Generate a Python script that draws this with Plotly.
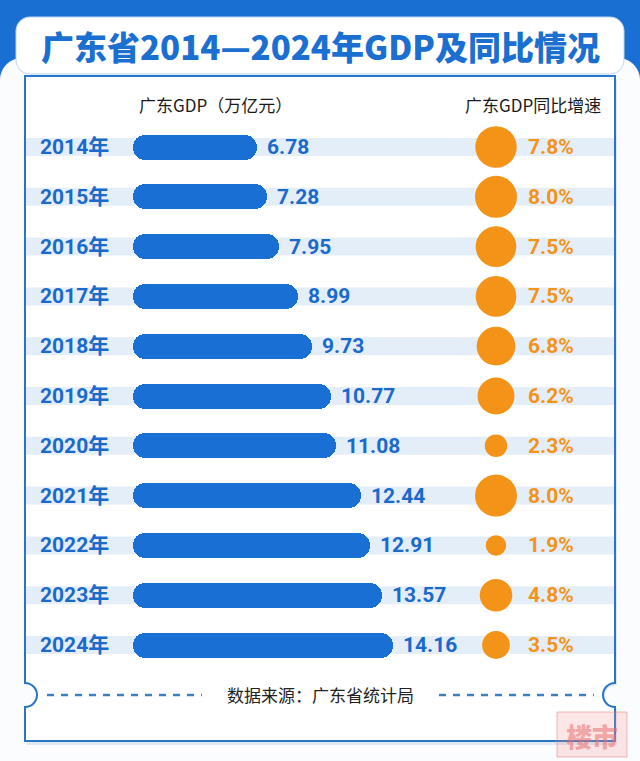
import plotly.graph_objects as go

# ---------------- data ----------------
years = ["2014年", "2015年", "2016年", "2017年", "2018年", "2019年",
         "2020年", "2021年", "2022年", "2023年", "2024年"]
gdp = [6.78, 7.28, 7.95, 8.99, 9.73, 10.77, 11.08, 12.44, 12.91, 13.57, 14.16]
growth = [7.8, 8.0, 7.5, 7.5, 6.8, 6.2, 2.3, 8.0, 1.9, 4.8, 3.5]
gdp_labels = [f"{v:.2f}" for v in gdp]
growth_labels = [f"{v:.1f}%" for v in growth]

title_text = "广东省2014—2024年GDP及同比情况"
header_left = "广东GDP（万亿元）"
header_right = "广东GDP同比增速"
source_text = "数据来源：广东省统计局"

# ---------------- layout constants (pixels) ----------------
W, H = 640, 761
BAR_X0 = 133          # pixel where GDP = 0
PX_PER_UNIT = 18.35   # pixels per 1 万亿元
ROW0 = 147            # pixel centre of first row
ROW_STEP = 49.8       # pixels between rows
CIRCLE_PX = 496       # pixel centre of bubbles
MAX_D = 42            # bubble diameter for max growth
BAR_H = 25            # bar thickness in pixels

BLUE = "#1a6fd4"
ORANGE = "#f39419"
STRIPE = "#e4eef9"
CARD_LINE = "#2a74c6"

CJK = "Noto Sans CJK SC"
NUM = "Roboto, Noto Sans CJK SC"

x_range = [-BAR_X0 / PX_PER_UNIT, (W - BAR_X0) / PX_PER_UNIT]
y_range = [(H - ROW0) / ROW_STEP, -ROW0 / ROW_STEP]
circle_x = (CIRCLE_PX - BAR_X0) / PX_PER_UNIT
EPS = 1e-6            # tiny non-zero base so both bar ends get rounded
idx = list(range(len(years)))


def X(px):
    return px / W


def Y(py):
    return 1 - py / H


def P(pts):
    return " ".join(f"{X(a):.5f},{Y(b):.5f}" for a, b in pts)


K = 0.5523


def rrect(x0, y0, x1, y1, r):
    k = K * r
    return (f"M {P([(x0 + r, y0)])} L {P([(x1 - r, y0)])} "
            f"C {P([(x1 - r + k, y0), (x1, y0 + r - k), (x1, y0 + r)])} "
            f"L {P([(x1, y1 - r)])} "
            f"C {P([(x1, y1 - r + k), (x1 - r + k, y1), (x1 - r, y1)])} "
            f"L {P([(x0 + r, y1)])} "
            f"C {P([(x0 + r - k, y1), (x0, y1 - r + k), (x0, y1 - r)])} "
            f"L {P([(x0, y0 + r)])} "
            f"C {P([(x0, y0 + r - k), (x0 + r - k, y0), (x0 + r, y0)])} Z")


def card_path(x0, y0, x1, y1, ny, r):
    k = K * r
    return (f"M {P([(x0, y0)])} L {P([(x1, y0)])} L {P([(x1, ny - r)])} "
            f"C {P([(x1 - k, ny - r), (x1 - r, ny - k), (x1 - r, ny)])} "
            f"C {P([(x1 - r, ny + k), (x1 - k, ny + r), (x1, ny + r)])} "
            f"L {P([(x1, y1)])} L {P([(x0, y1)])} L {P([(x0, ny + r)])} "
            f"C {P([(x0 + k, ny + r), (x0 + r, ny + k), (x0 + r, ny)])} "
            f"C {P([(x0 + r, ny - k), (x0 + k, ny - r), (x0, ny - r)])} Z")


shapes = []
# blue top band
shapes.append(dict(type="rect", xref="paper", yref="paper", x0=0, x1=1,
                   y0=Y(110), y1=Y(0), fillcolor="#1a6fd2", line_width=0, layer="below"))
# white rounded background
shapes.append(dict(type="path", xref="paper", yref="paper",
                   path=rrect(0, 58, 640, 820, 22), fillcolor="#fbfcfe",
                   line_width=0, layer="below"))
# card shadow
shapes.append(dict(type="path", xref="paper", yref="paper",
                   path=card_path(27, 79, 617, 745, 697, 12),
                   fillcolor="rgba(40,100,170,0.12)", line_width=0, layer="below"))
# card
shapes.append(dict(type="path", xref="paper", yref="paper",
                   path=card_path(25, 76, 615, 741, 695, 12),
                   fillcolor="white", line=dict(color=CARD_LINE, width=2), layer="below"))
# title box
shapes.append(dict(type="path", xref="paper", yref="paper",
                   path=rrect(16, 17, 624, 74, 14), fillcolor="white",
                   line=dict(color="#bcd5f2", width=1), layer="below"))
# row stripes
for i in idx:
    shapes.append(dict(type="rect", xref="paper", yref="y", x0=X(26), x1=X(614),
                       y0=i - 9 / ROW_STEP, y1=i + 9 / ROW_STEP,
                       fillcolor=STRIPE, line_width=0, layer="below"))
# dashed lines in footer
for a, b in [(47, 202), (439, 594)]:
    shapes.append(dict(type="line", xref="paper", yref="paper", x0=X(a), x1=X(b),
                       y0=Y(695), y1=Y(695),
                       line=dict(color="#3d7fc0", width=2.5, dash="7px,7px"), layer="below"))
# watermark stamp
shapes.append(dict(type="rect", xref="paper", yref="paper", x0=X(557), x1=X(627),
                   y0=Y(757), y1=Y(712), fillcolor="rgba(240,140,140,0.22)",
                   line=dict(color="rgba(230,120,120,0.5)", width=1), layer="above"))

fig = go.Figure()
fig.add_trace(go.Bar(
    x=[v - EPS for v in gdp], base=[EPS] * len(gdp), y=idx, orientation="h",
    width=BAR_H / ROW_STEP,
    marker=dict(color=BLUE, cornerradius=BAR_H // 2, line_width=0),
    hoverinfo="skip"))
# growth bubbles
fig.add_trace(go.Scatter(
    x=[circle_x] * len(growth), y=idx, mode="markers",
    marker=dict(size=growth, sizemode="area", sizeref=2 * max(growth) / MAX_D ** 2,
                color=ORANGE, opacity=1, line_width=0),
    hoverinfo="skip"))

annotations = []
annotations.append(dict(text=title_text, xref="paper", yref="paper", x=X(320), y=Y(46),
                        xanchor="center", yanchor="middle", showarrow=False,
                        font=dict(family=CJK, size=33, color="#1b6fd0", weight=900)))
annotations.append(dict(text=header_left, xref="paper", yref="paper", x=X(215), y=Y(104),
                        xanchor="center", yanchor="middle", showarrow=False,
                        font=dict(family=CJK, size=17, color="#1a1a1a")))
annotations.append(dict(text=header_right, xref="paper", yref="paper", x=X(533), y=Y(104),
                        xanchor="center", yanchor="middle", showarrow=False,
                        font=dict(family=CJK, size=17, color="#1a1a1a")))
annotations.append(dict(text=source_text, xref="paper", yref="paper", x=X(320), y=Y(694),
                        xanchor="center", yanchor="middle", showarrow=False,
                        font=dict(family=CJK, size=17, color="#222222")))
annotations.append(dict(text="楼市", xref="paper", yref="paper", x=X(592), y=Y(735),
                        xanchor="center", yanchor="middle", showarrow=False,
                        font=dict(family=CJK, size=26, color="rgba(230,110,110,0.55)", weight=900)))
for i in idx:
    annotations.append(dict(text=years[i], xref="paper", yref="y", x=X(38), y=i,
                            xanchor="left", yanchor="middle", showarrow=False,
                            font=dict(family=NUM, size=21, color="#1b6acb", weight="bold")))
    annotations.append(dict(text=gdp_labels[i], xref="x", yref="y", x=gdp[i], y=i,
                            xanchor="left", yanchor="middle", xshift=8, showarrow=False,
                            font=dict(family=NUM, size=21, color="#1b6acb", weight="bold")))
    annotations.append(dict(text=growth_labels[i], xref="x", yref="y", x=circle_x, y=i,
                            xanchor="left", yanchor="middle", xshift=30, showarrow=False,
                            font=dict(family=NUM, size=21, color=ORANGE, weight="bold")))

fig.update_layout(
    width=W, height=H, margin=dict(l=0, r=0, t=0, b=0, pad=0),
    paper_bgcolor="white", plot_bgcolor="rgba(0,0,0,0)",
    showlegend=False, shapes=shapes, annotations=annotations,
    xaxis=dict(range=x_range, domain=[0, 1], visible=False, fixedrange=True),
    yaxis=dict(range=y_range, domain=[0, 1], visible=False, fixedrange=True),
    bargap=0,
)

fig.write_html("out.html", post_script="document.body.style.margin='0';",
               config={"displayModeBar": False})
